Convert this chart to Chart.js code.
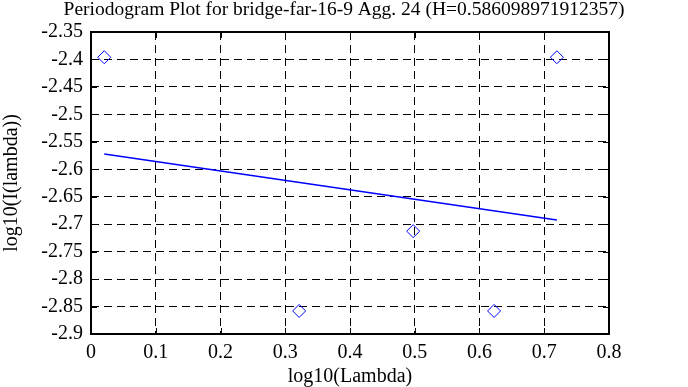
<!DOCTYPE html>
<html>
<head>
<meta charset="utf-8">
<script src="https://cdn.jsdelivr.net/npm/chart.js@4/dist/chart.umd.min.js"></script>
<style>
  html, body { margin: 0; padding: 0; background: #fff; }
  #wrap { width: 688px; height: 387px; }
</style>
</head>
<body>
<div id="wrap"><canvas id="periodogramChart" width="688" height="387"></canvas></div>
<script>
// periodogram points (log10 lambda, log10 I(lambda))
const logLambda = [0.0205, 0.3215, 0.4976, 0.6225, 0.7195];
const logI = [-2.396, -2.858, -2.7127, -2.858, -2.396];
// fitted line end points
const fitX = [0.0205, 0.7195];
const fitY = [-2.572, -2.6922];
const xTicks = [0, 0.1, 0.2, 0.3, 0.4, 0.5, 0.6, 0.7, 0.8];
const yTicks = [-2.35, -2.4, -2.45, -2.5, -2.55, -2.6, -2.65, -2.7, -2.75, -2.8, -2.85, -2.9];

const serif = "'Liberation Serif', 'DejaVu Serif', serif";

const framePlugin = {
    id: 'frame',
    afterDraw(chart) {
        const ctx = chart.ctx;
        const a = chart.chartArea;
        const xs = chart.scales.x, ys = chart.scales.y;
        ctx.save();
        ctx.strokeStyle = '#000';
        ctx.lineWidth = 1;
        ctx.setLineDash([]);
        ctx.beginPath();
        xTicks.forEach(function(v) {
            const px = Math.round(xs.getPixelForValue(v)) + 0.5;
            ctx.moveTo(px, a.bottom); ctx.lineTo(px, a.bottom - 6);
            ctx.moveTo(px, a.top); ctx.lineTo(px, a.top + 6);
        });
        yTicks.forEach(function(v) {
            const py = Math.round(ys.getPixelForValue(v)) + 0.5;
            ctx.moveTo(a.left, py); ctx.lineTo(a.left + 6, py);
            ctx.moveTo(a.right, py); ctx.lineTo(a.right - 6, py);
        });
        ctx.stroke();
        ctx.lineWidth = 2;
        ctx.strokeRect(a.left, a.top, a.right - a.left, a.bottom - a.top);
        ctx.fillStyle = '#000';
        ctx.font = '19.5px ' + serif;
        ctx.textAlign = 'center';
        ctx.textBaseline = 'middle';
        ctx.fillText('Periodogram Plot for bridge-far-16-9 Agg. 24 (H=0.586098971912357)', 344, 10);
        ctx.restore();
    }
};

const ctx = document.getElementById('periodogramChart').getContext('2d');
new Chart(ctx, {
    type: 'scatter',
    data: {
        datasets: [{
            label: 'periodogram',
            data: logLambda.map(function(x, i) { return { x: x, y: logI[i] }; }),
            pointStyle: 'rectRot',
            pointRadius: 6.5,
            pointBorderColor: '#0000ff',
            pointBackgroundColor: 'rgba(0,0,0,0)',
            pointBorderWidth: 1,
            showLine: false
        }, {
            label: 'fit',
            type: 'line',
            data: fitX.map(function(x, i) { return { x: x, y: fitY[i] }; }),
            borderColor: '#0000ff',
            borderWidth: 1.5,
            pointRadius: 0,
            fill: false
        }]
    },
    options: {
        responsive: false,
        animation: false,
        layout: { padding: { top: 32, right: 79, left: 0, bottom: 0 } },
        plugins: {
            legend: { display: false },
            tooltip: { enabled: false },
            title: { display: false }
        },
        scales: {
            x: {
                type: 'linear',
                min: 0, max: 0.8,
                afterFit: function(s) { s.height = 53; },
                afterBuildTicks: function(s) { s.ticks = xTicks.map(function(v) { return { value: v }; }); },
                grid: { color: '#000', lineWidth: 1, drawTicks: false },
                border: { display: false, dash: [8, 5] },
                ticks: {
                    color: '#000', padding: 7,
                    font: { family: serif, size: 20 },
                    callback: function(v) { return String(parseFloat(v.toFixed(2))); }
                },
                title: {
                    display: true, text: 'log10(Lambda)', color: '#000',
                    font: { family: serif, size: 20 }, padding: { top: 0, bottom: -2 }
                }
            },
            y: {
                type: 'linear',
                min: -2.9, max: -2.35,
                afterFit: function(s) { s.width = 91; },
                afterBuildTicks: function(s) { s.ticks = yTicks.map(function(v) { return { value: v }; }); },
                grid: { color: '#000', lineWidth: 1, drawTicks: false },
                border: { display: false, dash: [8, 5] },
                ticks: {
                    color: '#000', padding: 8,
                    font: { family: serif, size: 20 },
                    callback: function(v) { return String(parseFloat(v.toFixed(2))); }
                },
                title: {
                    display: true, text: 'log10(I(lambda))', color: '#000',
                    font: { family: serif, size: 20 }, padding: { top: 0, bottom: 0 }
                }
            }
        }
    },
    plugins: [framePlugin]
});
</script>
</body>
</html>
